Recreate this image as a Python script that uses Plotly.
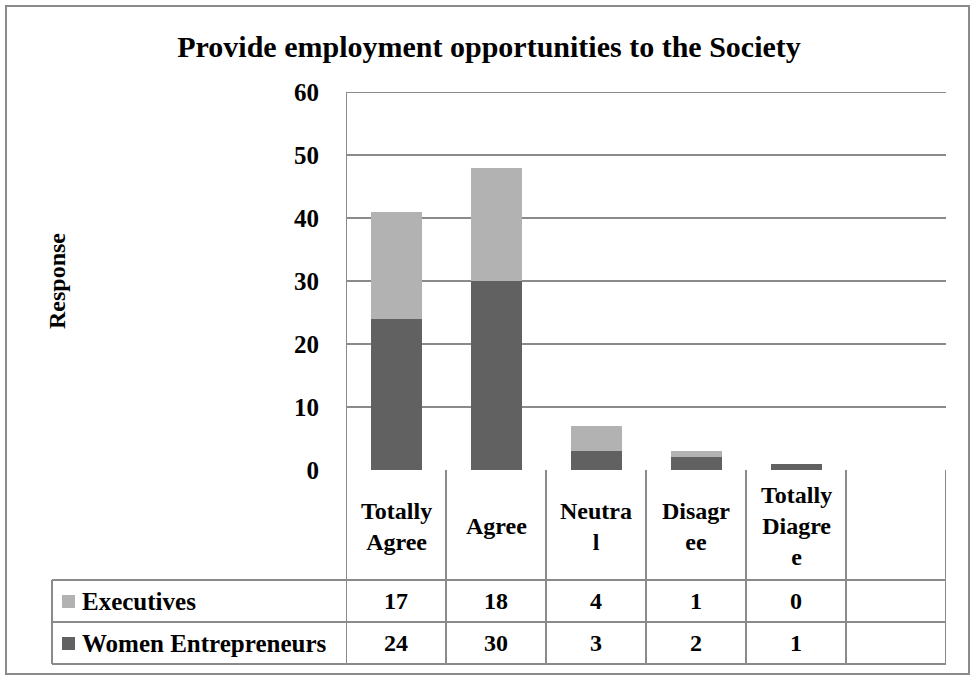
import plotly.graph_objects as go

# ---- data ----
categories = ["Totally<br>Agree", "Agree", "Neutra<br>l", "Disagr<br>ee", "Totally<br>Diagre<br>e", ""]
series_names = ["Executives", "Women Entrepreneurs"]
executives = [17, 18, 4, 1, 0]
women = [24, 30, 3, 2, 1]
y_ticks = [0, 10, 20, 30, 40, 50, 60]

# ---- layout constants (pixels) ----
W, H = 974, 678
L, R, T, B = 346, 28, 92, 208
plot_h = H - T - B
plot_w = W - L - R

def py(pix_y):
    return (H - B - pix_y) / plot_h

def px(pix_x):
    return (pix_x - L) / plot_w

FONT = "Liberation Serif"
LINE = "#8a8a8a"
C_EXEC = "#b2b2b2"
C_WOMEN = "#616161"

xs = list(range(len(executives)))

fig = go.Figure()
fig.add_trace(go.Bar(x=xs, y=women, name=series_names[1], marker_color=C_WOMEN,
                     width=0.51, marker_line_width=0))
fig.add_trace(go.Bar(x=xs, y=executives, name=series_names[0], marker_color=C_EXEC,
                     width=0.51, marker_line_width=0))

shapes = []
annotations = []
n_cols = len(categories)
row_top, row_mid, row_bot = 580, 622, 664
table_left = 52

# top gridline at max of axis
shapes.append(dict(type="line", xref="x", yref="y", x0=-0.5, x1=n_cols - 0.5,
                   y0=y_ticks[-1], y1=y_ticks[-1], line=dict(color=LINE, width=2)))
# horizontal table lines
for yy in (row_top, row_mid, row_bot):
    shapes.append(dict(type="line", xref="paper", yref="paper",
                       x0=px(table_left), x1=px(L), y0=py(yy), y1=py(yy),
                       line=dict(color=LINE, width=2)))
    shapes.append(dict(type="line", xref="x", yref="paper",
                       x0=-0.5, x1=n_cols - 0.5, y0=py(yy), y1=py(yy),
                       line=dict(color=LINE, width=2)))
# vertical lines
for i in range(n_cols + 1):
    shapes.append(dict(type="line", xref="x", yref="paper",
                       x0=i - 0.5, x1=i - 0.5, y0=(1 if i == 0 else 0), y1=py(row_bot),
                       line=dict(color=LINE, width=2)))
shapes.append(dict(type="line", xref="paper", yref="paper",
                   x0=px(table_left), x1=px(table_left), y0=py(row_top), y1=py(row_bot),
                   line=dict(color=LINE, width=2)))
# outer border
shapes.append(dict(type="rect", xref="paper", yref="paper",
                   x0=px(6), x1=px(969), y0=py(674), y1=py(6),
                   line=dict(color=LINE, width=2), fillcolor="rgba(0,0,0,0)"))

# header labels
for i, c in enumerate(categories):
    if c:
        annotations.append(dict(x=i, y=py(526), xref="x", yref="paper", text="<b>%s</b>" % c,
                                showarrow=False, font=dict(family=FONT, size=24, color="black"),
                                align="center", yanchor="middle"))
# value rows
rows = [(executives, (row_top + row_mid) / 2, C_EXEC, series_names[0]),
        (women, (row_mid + row_bot) / 2, C_WOMEN, series_names[1])]
for vals, yc, col, name in rows:
    for i, v in enumerate(vals):
        annotations.append(dict(x=i, y=py(yc), xref="x", yref="paper", text="<b>%d</b>" % v,
                                showarrow=False, font=dict(family=FONT, size=24, color="black"),
                                yanchor="middle"))
    shapes.append(dict(type="rect", xref="paper", yref="paper",
                       x0=px(62), x1=px(75), y0=py(yc + 7), y1=py(yc - 6),
                       fillcolor=col, line=dict(width=0)))
    annotations.append(dict(x=px(80), y=py(yc), xref="paper", yref="paper",
                            text="<b>%s</b>" % name, showarrow=False, xanchor="left",
                            yanchor="middle", font=dict(family=FONT, size=25, color="black")))

# y axis title
annotations.append(dict(x=px(57), y=py(281), xref="paper", yref="paper", text="<b>Response</b>",
                        textangle=-90, showarrow=False, xanchor="center", yanchor="middle",
                        font=dict(family=FONT, size=24, color="black")))

fig.update_layout(
    width=W, height=H,
    margin=dict(l=L, r=R, t=T, b=B),
    barmode="stack",
    showlegend=False,
    plot_bgcolor="white", paper_bgcolor="white",
    title=dict(text="<b>Provide employment opportunities to the Society</b>",
               xref="container", x=489 / W, xanchor="center",
               yref="container", y=1 - 46 / H, yanchor="middle",
               font=dict(family=FONT, size=30, color="black")),
    xaxis=dict(range=[-0.5, n_cols - 0.5], showticklabels=False, showgrid=False,
               zeroline=False, showline=False, ticks=""),
    yaxis=dict(range=[0, 60], tickvals=y_ticks, ticktext=["<b>%d</b>" % t for t in y_ticks],
               showgrid=True, gridcolor=LINE, gridwidth=2, zeroline=False,
               showline=False, ticks="", ticklabelstandoff=26,
               tickfont=dict(family=FONT, size=25, color="black")),
    shapes=shapes, annotations=annotations,
)

fig.write_html("out.html", config={"displayModeBar": False},
               post_script="document.body.style.margin='0px';document.body.style.padding='0px';")
